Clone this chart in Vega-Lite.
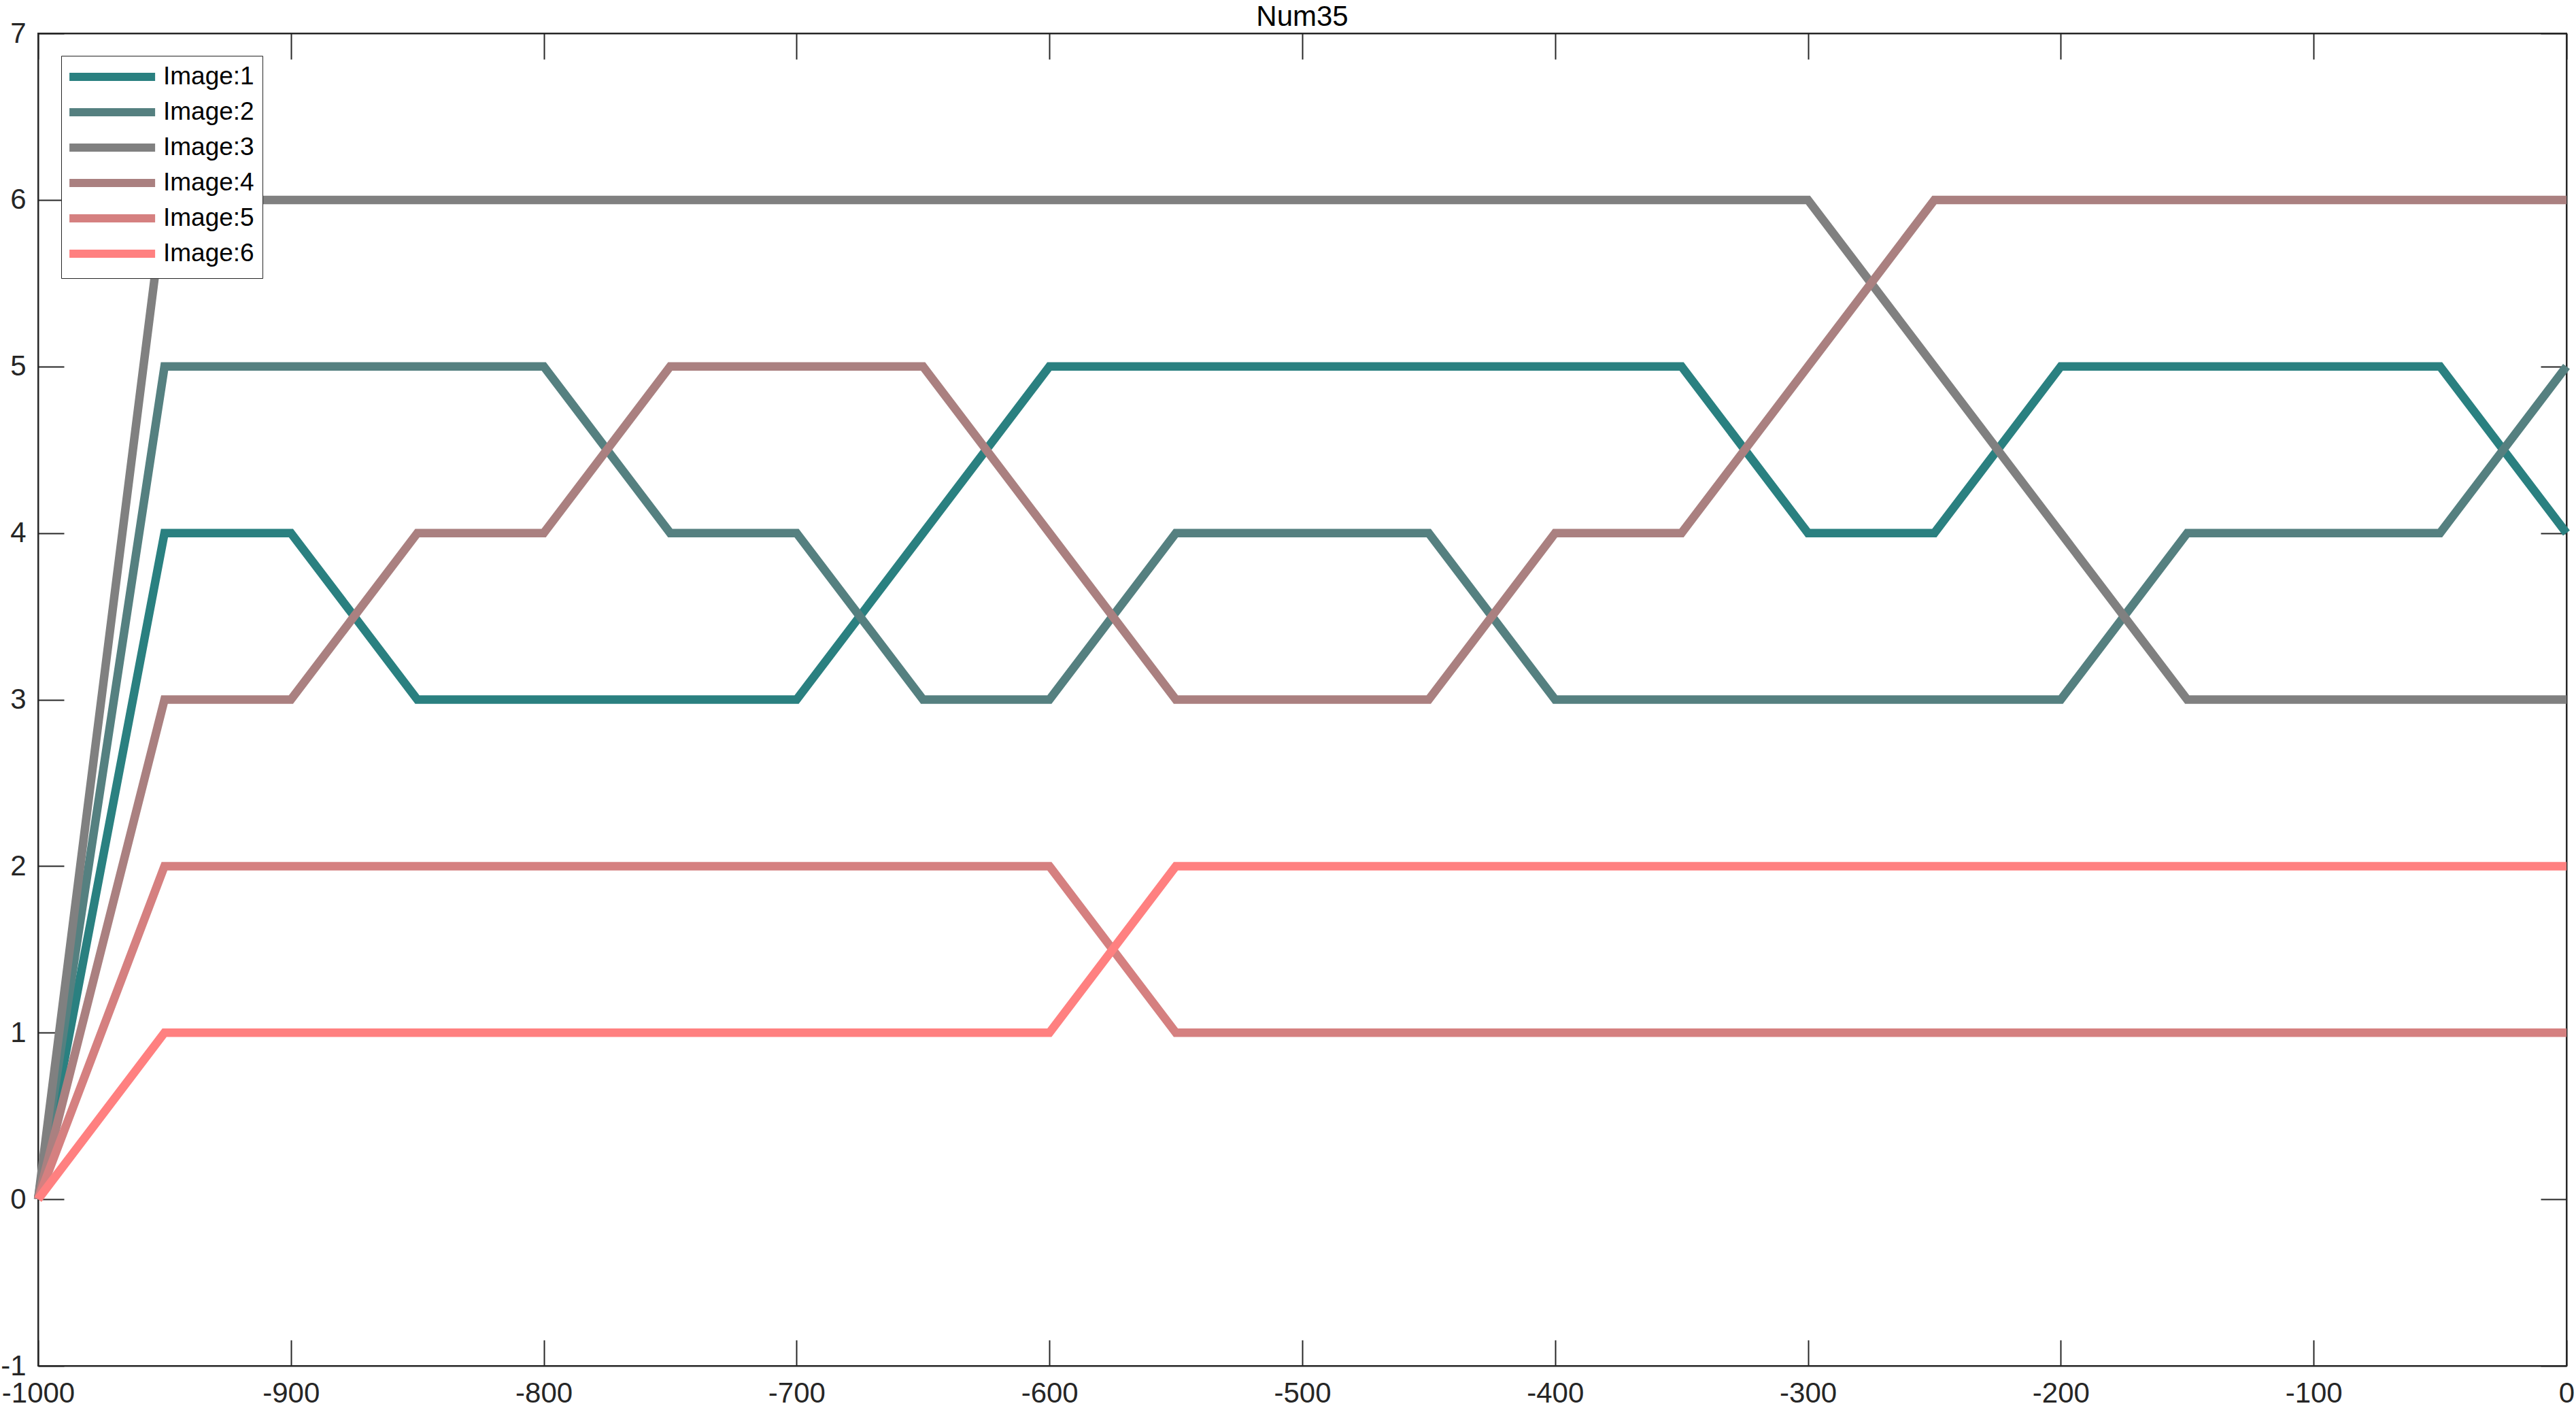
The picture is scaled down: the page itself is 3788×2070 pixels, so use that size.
{
  "$schema": "https://vega.github.io/schema/vega-lite/v6.json",
  "width": 3718,
  "height": 1959,
  "autosize": {"type": "none"},
  "padding": {"left": 56, "top": 49, "right": 14, "bottom": 62},
  "background": "white",
  "title": {"text": "Num35", "font": "Liberation Sans", "fontSize": 42, "fontWeight": "normal", "color": "#000000", "anchor": "middle", "offset": -19},
  "config": {
    "view": {"stroke": "#262626", "strokeWidth": 2},
    "axis": {"labelFont": "Liberation Sans", "labelFontSize": 42, "labelColor": "#262626", "domainColor": "#262626", "domainWidth": 2, "tickColor": "#262626", "tickWidth": 2, "grid": false, "title": null, "labelFlush": false, "labelOverlap": false}
  },
  "data": {"values": [
    {"x": -1000, "y": 0, "s": "Image:1"}, {"x": -950, "y": 4, "s": "Image:1"}, {"x": -900, "y": 4, "s": "Image:1"}, {"x": -850, "y": 3, "s": "Image:1"}, {"x": -800, "y": 3, "s": "Image:1"}, {"x": -750, "y": 3, "s": "Image:1"}, {"x": -700, "y": 3, "s": "Image:1"}, {"x": -650, "y": 4, "s": "Image:1"}, {"x": -600, "y": 5, "s": "Image:1"}, {"x": -550, "y": 5, "s": "Image:1"}, {"x": -500, "y": 5, "s": "Image:1"}, {"x": -450, "y": 5, "s": "Image:1"}, {"x": -400, "y": 5, "s": "Image:1"}, {"x": -350, "y": 5, "s": "Image:1"}, {"x": -300, "y": 4, "s": "Image:1"}, {"x": -250, "y": 4, "s": "Image:1"}, {"x": -200, "y": 5, "s": "Image:1"}, {"x": -150, "y": 5, "s": "Image:1"}, {"x": -100, "y": 5, "s": "Image:1"}, {"x": -50, "y": 5, "s": "Image:1"}, {"x": 0, "y": 4, "s": "Image:1"},
    {"x": -1000, "y": 0, "s": "Image:2"}, {"x": -950, "y": 5, "s": "Image:2"}, {"x": -900, "y": 5, "s": "Image:2"}, {"x": -850, "y": 5, "s": "Image:2"}, {"x": -800, "y": 5, "s": "Image:2"}, {"x": -750, "y": 4, "s": "Image:2"}, {"x": -700, "y": 4, "s": "Image:2"}, {"x": -650, "y": 3, "s": "Image:2"}, {"x": -600, "y": 3, "s": "Image:2"}, {"x": -550, "y": 4, "s": "Image:2"}, {"x": -500, "y": 4, "s": "Image:2"}, {"x": -450, "y": 4, "s": "Image:2"}, {"x": -400, "y": 3, "s": "Image:2"}, {"x": -350, "y": 3, "s": "Image:2"}, {"x": -300, "y": 3, "s": "Image:2"}, {"x": -250, "y": 3, "s": "Image:2"}, {"x": -200, "y": 3, "s": "Image:2"}, {"x": -150, "y": 4, "s": "Image:2"}, {"x": -100, "y": 4, "s": "Image:2"}, {"x": -50, "y": 4, "s": "Image:2"}, {"x": 0, "y": 5, "s": "Image:2"},
    {"x": -1000, "y": 0, "s": "Image:3"}, {"x": -950, "y": 6, "s": "Image:3"}, {"x": -900, "y": 6, "s": "Image:3"}, {"x": -850, "y": 6, "s": "Image:3"}, {"x": -800, "y": 6, "s": "Image:3"}, {"x": -750, "y": 6, "s": "Image:3"}, {"x": -700, "y": 6, "s": "Image:3"}, {"x": -650, "y": 6, "s": "Image:3"}, {"x": -600, "y": 6, "s": "Image:3"}, {"x": -550, "y": 6, "s": "Image:3"}, {"x": -500, "y": 6, "s": "Image:3"}, {"x": -450, "y": 6, "s": "Image:3"}, {"x": -400, "y": 6, "s": "Image:3"}, {"x": -350, "y": 6, "s": "Image:3"}, {"x": -300, "y": 6, "s": "Image:3"}, {"x": -250, "y": 5, "s": "Image:3"}, {"x": -200, "y": 4, "s": "Image:3"}, {"x": -150, "y": 3, "s": "Image:3"}, {"x": -100, "y": 3, "s": "Image:3"}, {"x": -50, "y": 3, "s": "Image:3"}, {"x": 0, "y": 3, "s": "Image:3"},
    {"x": -1000, "y": 0, "s": "Image:4"}, {"x": -950, "y": 3, "s": "Image:4"}, {"x": -900, "y": 3, "s": "Image:4"}, {"x": -850, "y": 4, "s": "Image:4"}, {"x": -800, "y": 4, "s": "Image:4"}, {"x": -750, "y": 5, "s": "Image:4"}, {"x": -700, "y": 5, "s": "Image:4"}, {"x": -650, "y": 5, "s": "Image:4"}, {"x": -600, "y": 4, "s": "Image:4"}, {"x": -550, "y": 3, "s": "Image:4"}, {"x": -500, "y": 3, "s": "Image:4"}, {"x": -450, "y": 3, "s": "Image:4"}, {"x": -400, "y": 4, "s": "Image:4"}, {"x": -350, "y": 4, "s": "Image:4"}, {"x": -300, "y": 5, "s": "Image:4"}, {"x": -250, "y": 6, "s": "Image:4"}, {"x": -200, "y": 6, "s": "Image:4"}, {"x": -150, "y": 6, "s": "Image:4"}, {"x": -100, "y": 6, "s": "Image:4"}, {"x": -50, "y": 6, "s": "Image:4"}, {"x": 0, "y": 6, "s": "Image:4"},
    {"x": -1000, "y": 0, "s": "Image:5"}, {"x": -950, "y": 2, "s": "Image:5"}, {"x": -900, "y": 2, "s": "Image:5"}, {"x": -850, "y": 2, "s": "Image:5"}, {"x": -800, "y": 2, "s": "Image:5"}, {"x": -750, "y": 2, "s": "Image:5"}, {"x": -700, "y": 2, "s": "Image:5"}, {"x": -650, "y": 2, "s": "Image:5"}, {"x": -600, "y": 2, "s": "Image:5"}, {"x": -550, "y": 1, "s": "Image:5"}, {"x": -500, "y": 1, "s": "Image:5"}, {"x": -450, "y": 1, "s": "Image:5"}, {"x": -400, "y": 1, "s": "Image:5"}, {"x": -350, "y": 1, "s": "Image:5"}, {"x": -300, "y": 1, "s": "Image:5"}, {"x": -250, "y": 1, "s": "Image:5"}, {"x": -200, "y": 1, "s": "Image:5"}, {"x": -150, "y": 1, "s": "Image:5"}, {"x": -100, "y": 1, "s": "Image:5"}, {"x": -50, "y": 1, "s": "Image:5"}, {"x": 0, "y": 1, "s": "Image:5"},
    {"x": -1000, "y": 0, "s": "Image:6"}, {"x": -950, "y": 1, "s": "Image:6"}, {"x": -900, "y": 1, "s": "Image:6"}, {"x": -850, "y": 1, "s": "Image:6"}, {"x": -800, "y": 1, "s": "Image:6"}, {"x": -750, "y": 1, "s": "Image:6"}, {"x": -700, "y": 1, "s": "Image:6"}, {"x": -650, "y": 1, "s": "Image:6"}, {"x": -600, "y": 1, "s": "Image:6"}, {"x": -550, "y": 2, "s": "Image:6"}, {"x": -500, "y": 2, "s": "Image:6"}, {"x": -450, "y": 2, "s": "Image:6"}, {"x": -400, "y": 2, "s": "Image:6"}, {"x": -350, "y": 2, "s": "Image:6"}, {"x": -300, "y": 2, "s": "Image:6"}, {"x": -250, "y": 2, "s": "Image:6"}, {"x": -200, "y": 2, "s": "Image:6"}, {"x": -150, "y": 2, "s": "Image:6"}, {"x": -100, "y": 2, "s": "Image:6"}, {"x": -50, "y": 2, "s": "Image:6"}, {"x": 0, "y": 2, "s": "Image:6"}
  ]},
  "layer": [
    {
      "mark": {"type": "line", "strokeWidth": 12.5, "strokeCap": "butt", "strokeJoin": "miter", "clip": false},
      "encoding": {
        "x": {"field": "x", "type": "quantitative", "scale": {"domain": [-1000, 0], "nice": false, "zero": false},
              "axis": {"orient": "bottom", "values": [-1000, -900, -800, -700, -600, -500, -400, -300, -200, -100, 0], "tickSize": -38, "labelPadding": 58, "labelExpr": "'' + datum.value"}},
        "y": {"field": "y", "type": "quantitative", "scale": {"domain": [-1, 7], "nice": false, "zero": false},
              "axis": {"orient": "left", "values": [-1, 0, 1, 2, 3, 4, 5, 6, 7], "tickSize": -38, "labelPadding": 56, "labelExpr": "'' + datum.value"}},
        "color": {"field": "s", "type": "nominal",
                  "scale": {"domain": ["Image:1", "Image:2", "Image:3", "Image:4", "Image:5", "Image:6"], "range": ["#2a8080", "#558080", "#808080", "#aa8080", "#d58080", "#ff8080"]},
                  "legend": {"orient": "none", "legendX": 34, "legendY": 33, "title": null, "symbolType": "M-1.5,0H8.5", "symbolSize": 635, "symbolStrokeWidth": 12, "labelFont": "Liberation Sans", "labelFontSize": 37, "labelColor": "#000000", "labelOffset": 100, "strokeColor": "#262626", "fillColor": "white", "padding": 12, "rowPadding": 4}}
      }
    },
    {
      "mark": {"type": "line", "opacity": 0},
      "encoding": {
        "x": {"field": "x", "type": "quantitative", "axis": {"orient": "top", "values": [-1000, -900, -800, -700, -600, -500, -400, -300, -200, -100, 0], "tickSize": -38, "labels": false}},
        "y": {"field": "y", "type": "quantitative", "axis": {"orient": "right", "values": [-1, 0, 1, 2, 3, 4, 5, 6, 7], "tickSize": -38, "labels": false}}
      }
    }
  ],
  "resolve": {"axis": {"x": "independent", "y": "independent"}}
}
